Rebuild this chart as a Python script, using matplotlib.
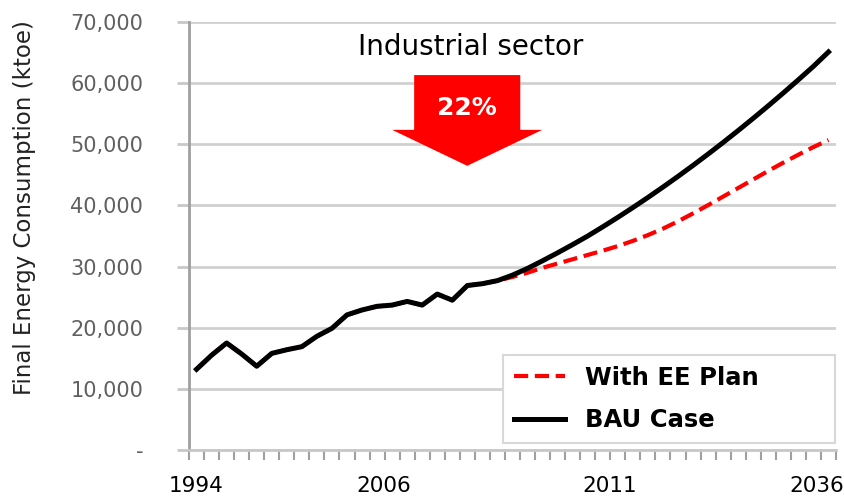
import numpy as np
import matplotlib.pyplot as plt
from matplotlib.patches import Polygon

# annual series, 1994-2036 (ktoe)
years = list(range(1994, 2037))
bau_case = [13200, 15500, 17500, 15700, 13700, 15800, 16400, 16900, 18600, 19900,
            22100, 22900, 23500, 23700, 24300, 23700, 25500, 24500, 26900, 27200,
            27700, 28600, 29700, 30950, 32250, 33600, 35000, 36500, 38050, 39650,
            41300, 43000, 44750, 46550, 48400, 50300, 52250, 54250, 56300, 58400,
            60550, 62750, 65100]
ee_plan = [13200, 15500, 17500, 15700, 13700, 15800, 16400, 16900, 18600, 19900,
           22100, 22900, 23500, 23700, 24300, 23700, 25500, 24500, 26900, 27200,
           27700, 28300, 29000, 29800, 30500, 31200, 31900, 32600, 33350, 34200,
           35150, 36200, 37400, 38700, 40050, 41450, 42850, 44250, 45650, 47000,
           48300, 49550, 50700]
shown_years = ['1994', '2006', '2011', '2036']
y_values = [0, 10000, 20000, 30000, 40000, 50000, 60000, 70000]

fig = plt.figure(figsize=(8.45, 5.04), dpi=100)
ax = fig.add_axes([189 / 845, 54 / 504, 647 / 845, 428 / 504])

x = np.arange(len(years))
ax.plot(x, ee_plan, color='#ff0000', lw=3.0, dashes=(3.4, 1.6),
        label='With EE Plan', zorder=3)
ax.plot(x, bau_case, color='black', lw=3.6, label='BAU Case', zorder=4)

ax.set_xlim(-0.5, len(years) - 0.5)
ax.set_ylim(0, 70000)

# gridlines
ax.set_yticks(y_values)
ax.set_yticklabels(['-' if v == 0 else f'{v:,}' for v in y_values])
ax.yaxis.grid(True, color='#d0d0d0', lw=2)
ax.set_axisbelow(True)
ax.tick_params(axis='y', length=9, width=2, color='#c8c8c8', pad=24,
               labelsize=15, labelcolor='#606060')

# x axis: tick marks between categories, odd labels like the source
ax.set_xticks(np.arange(-0.5, len(years), 1.0), minor=True)
ax.set_xticks([0, 12.46, 27.47, 41.2])
ax.set_xticklabels(shown_years)
ax.tick_params(axis='x', which='major', length=0, pad=19, labelsize=15.5)
ax.tick_params(axis='x', which='minor', length=7, width=1.5, color='#a0a0a0')

for s in ['top', 'right']:
    ax.spines[s].set_visible(False)
ax.spines['left'].set_color('#a0a0a0')
ax.spines['left'].set_linewidth(2)
ax.spines['bottom'].set_color('#c8c8c8')
ax.spines['bottom'].set_linewidth(2)

fig.text(25 / 845, 1 - 208 / 504, 'Final Energy Consumption (ktoe)', rotation=90,
         ha='center', va='center', fontsize=16.5, color='#222222')

# title and the red block arrow
ax.text(0.436, 0.941, 'Industrial sector', transform=ax.transAxes,
        ha='center', va='center', fontsize=20, color='black', zorder=6)
arrow = Polygon([(0.348, 0.876), (0.512, 0.876), (0.512, 0.748), (0.546, 0.748),
                 (0.430, 0.664), (0.314, 0.748), (0.348, 0.748)],
                closed=True, transform=ax.transAxes, facecolor='#ff0000',
                edgecolor='none', zorder=5)
ax.add_patch(arrow)
ax.text(0.430, 0.799, '22%', transform=ax.transAxes, ha='center', va='center',
        fontsize=18, fontweight='bold', color='white', zorder=6)

leg = ax.legend(loc='lower left', bbox_to_anchor=(0.485, 0.016, 0.513, 0.24),
                mode='expand', fancybox=False, framealpha=1, edgecolor='#d8d8d8',
                prop={'weight': 'bold', 'size': 17.5}, handlelength=2.1,
                handletextpad=0.85, borderpad=0.45, labelspacing=0.75,
                borderaxespad=0)
leg.get_frame().set_linewidth(1.5)
leg.set_zorder(7)

fig.savefig('out.png', dpi=100)
